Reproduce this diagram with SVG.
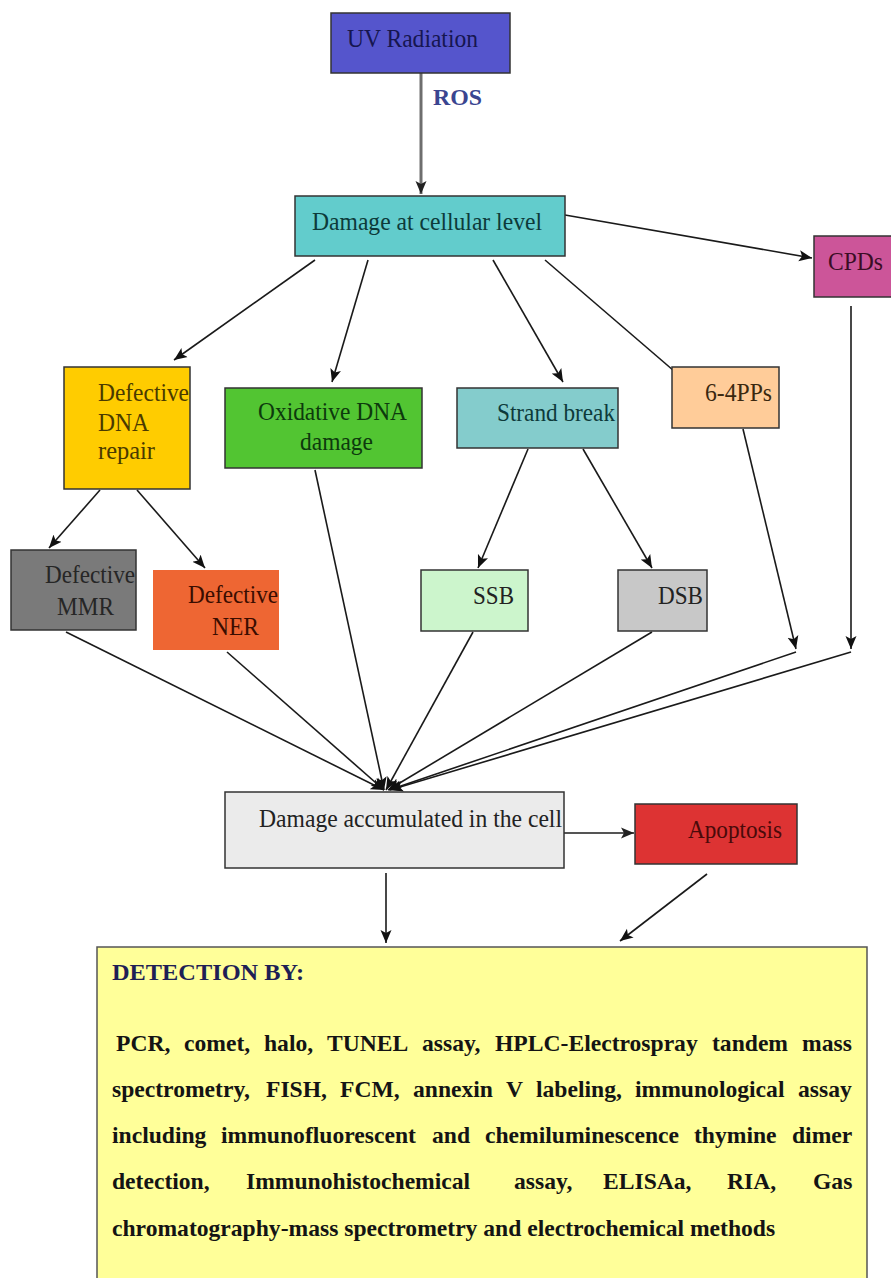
<svg xmlns="http://www.w3.org/2000/svg" width="891" height="1278" viewBox="0 0 891 1278">
<style>
.box{stroke:#333;stroke-width:1.5}
.lbl{font-family:"Liberation Serif","Times New Roman",serif;font-size:26px}
.con{stroke:#1a1a1a;stroke-width:1.6;fill:none}
.det{font-family:"Liberation Serif","Times New Roman",serif;font-size:23.6px;font-weight:bold;fill:#141414}
</style>
<defs>
<marker id="ah" markerUnits="userSpaceOnUse" markerWidth="14" markerHeight="12" refX="13" refY="6" orient="auto">
<path d="M0,0.5 L13,6 L0,11.5 L3,6 z" fill="#111"/>
</marker>
<marker id="ahg" markerUnits="userSpaceOnUse" markerWidth="14" markerHeight="12" refX="13" refY="6" orient="auto">
<path d="M0,0.5 L13,6 L0,11.5 L3,6 z" fill="#222"/>
</marker>
</defs>
<rect width="891" height="1278" fill="#fff"/>

<g id="connectors">
<line x1="421" y1="73" x2="421" y2="194" stroke="#6e6e6e" stroke-width="3" marker-end="url(#ahg)"/>
<line class="con" x1="565" y1="215" x2="812" y2="258" marker-end="url(#ah)"/>
<line class="con" x1="315" y1="260" x2="174" y2="360" marker-end="url(#ah)"/>
<line class="con" x1="368" y1="260" x2="332" y2="382" marker-end="url(#ah)"/>
<line class="con" x1="493" y1="260" x2="563" y2="382" marker-end="url(#ah)"/>
<line class="con" x1="545" y1="260" x2="688" y2="383" marker-end="url(#ah)"/>
<line class="con" x1="100" y1="490" x2="49" y2="548" marker-end="url(#ah)"/>
<line class="con" x1="137" y1="490" x2="205" y2="568" marker-end="url(#ah)"/>
<line class="con" x1="528" y1="449" x2="478" y2="568" marker-end="url(#ah)"/>
<line class="con" x1="583" y1="449" x2="652" y2="568" marker-end="url(#ah)"/>
<line class="con" x1="743" y1="429" x2="796" y2="649" marker-end="url(#ah)"/>
<line class="con" x1="851" y1="306" x2="851" y2="649" marker-end="url(#ah)"/>
<line class="con" x1="66" y1="632" x2="384" y2="790" marker-end="url(#ah)"/>
<line class="con" x1="227" y1="652" x2="384" y2="790" marker-end="url(#ah)"/>
<line class="con" x1="315" y1="470" x2="384" y2="790" marker-end="url(#ah)"/>
<line class="con" x1="473" y1="632" x2="386" y2="790" marker-end="url(#ah)"/>
<line class="con" x1="652" y1="632" x2="388" y2="790" marker-end="url(#ah)"/>
<line class="con" x1="796" y1="652" x2="389" y2="790" marker-end="url(#ah)"/>
<line class="con" x1="851" y1="652" x2="390" y2="790" marker-end="url(#ah)"/>
<line x1="564" y1="833" x2="634" y2="833" stroke="#555" stroke-width="2.2" marker-end="url(#ahg)"/>
<line class="con" x1="386" y1="873" x2="386" y2="943" marker-end="url(#ah)"/>
<line class="con" x1="707" y1="874" x2="620" y2="941" marker-end="url(#ah)"/>
</g>

<g id="uv">
<rect class="box" x="331" y="13" width="179" height="60" fill="#5555cc"/>
<text class="lbl" x="347" y="47" textLength="131" lengthAdjust="spacingAndGlyphs" fill="#161650">UV Radiation</text>
</g>
<g id="ros-label">
<text x="433" y="105" font-family="Liberation Serif,serif" font-weight="bold" font-size="24" fill="#3a4590" textLength="49" lengthAdjust="spacingAndGlyphs">ROS</text>
</g>
<g id="damage-cell">
<rect class="box" x="295" y="196" width="270" height="60" fill="#62cccc"/>
<text class="lbl" x="312" y="230" textLength="230" lengthAdjust="spacingAndGlyphs" fill="#0d3a3a">Damage at cellular level</text>
</g>
<g id="cpds">
<rect class="box" x="814" y="236" width="80" height="61" fill="#cc5599"/>
<text class="lbl" x="828" y="270" textLength="55" lengthAdjust="spacingAndGlyphs" fill="#3a0d25">CPDs</text>
</g>
<g id="pp64">
<rect class="box" x="672" y="367" width="107" height="61" fill="#ffcc99"/>
<text class="lbl" x="705" y="401" textLength="67" lengthAdjust="spacingAndGlyphs" fill="#3a2810">6-4PPs</text>
</g>
<g id="dna-repair">
<rect class="box" x="64" y="367" width="126" height="122" fill="#ffcc00"/>
<text class="lbl" fill="#4a3a00"><tspan x="98" y="401" textLength="91" lengthAdjust="spacingAndGlyphs">Defective</tspan><tspan x="98" y="431" textLength="51" lengthAdjust="spacingAndGlyphs">DNA</tspan><tspan x="98" y="459" textLength="57" lengthAdjust="spacingAndGlyphs">repair</tspan></text>
</g>
<g id="oxidative">
<rect class="box" x="225" y="388" width="197" height="80" fill="#52c532"/>
<text class="lbl" fill="#0d3a0d"><tspan x="258" y="420" textLength="149" lengthAdjust="spacingAndGlyphs">Oxidative DNA</tspan><tspan x="300" y="450" textLength="73" lengthAdjust="spacingAndGlyphs">damage</tspan></text>
</g>
<g id="strand-break">
<rect class="box" x="457" y="388" width="161" height="60" fill="#84cccc"/>
<text class="lbl" x="497" y="421" textLength="118" lengthAdjust="spacingAndGlyphs" fill="#0d3a3a">Strand break</text>
</g>
<g id="mmr">
<rect class="box" x="11" y="550" width="125" height="80" fill="#7a7a7a"/>
<text class="lbl" fill="#262626"><tspan x="45" y="583" textLength="90" lengthAdjust="spacingAndGlyphs">Defective</tspan><tspan x="57" y="615" textLength="57" lengthAdjust="spacingAndGlyphs">MMR</tspan></text>
</g>
<g id="ner">
<rect x="153" y="570" width="126" height="80" fill="#ee6633"/>
<text class="lbl" fill="#3a0d00"><tspan x="188" y="603" textLength="90" lengthAdjust="spacingAndGlyphs">Defective</tspan><tspan x="212" y="635" textLength="47" lengthAdjust="spacingAndGlyphs">NER</tspan></text>
</g>
<g id="ssb">
<rect class="box" x="421" y="570" width="107" height="61" fill="#ccf5cc"/>
<text class="lbl" x="473" y="604" textLength="41" lengthAdjust="spacingAndGlyphs" fill="#222">SSB</text>
</g>
<g id="dsb">
<rect class="box" x="618" y="570" width="89" height="61" fill="#c8c8c8"/>
<text class="lbl" x="658" y="604" textLength="45" lengthAdjust="spacingAndGlyphs" fill="#222">DSB</text>
</g>
<g id="damage-accumulated">
<rect class="box" x="225" y="792" width="339" height="76" fill="#ebebeb"/>
<text class="lbl" x="259" y="827" textLength="303" lengthAdjust="spacingAndGlyphs" fill="#222">Damage accumulated in the cell</text>
</g>
<g id="apoptosis">
<rect class="box" x="635" y="804" width="162" height="60" fill="#dd3333"/>
<text class="lbl" x="688" y="838" textLength="94" lengthAdjust="spacingAndGlyphs" fill="#4a0a0a">Apoptosis</text>
</g>
<g id="detection">
<rect x="97" y="947" width="770" height="340" fill="#ffff99" stroke="#555" stroke-width="1.5"/>
<text x="112" y="980" font-family="Liberation Serif,serif" font-weight="bold" font-size="24" fill="#1f1f55" textLength="192" lengthAdjust="spacingAndGlyphs">DETECTION BY:</text>
<text class="det" y="1051"><tspan x="116">PCR,</tspan><tspan x="184">comet,</tspan><tspan x="264">halo,</tspan><tspan x="327">TUNEL</tspan><tspan x="422">assay,</tspan><tspan x="495">HPLC-Electrospray</tspan><tspan x="712">tandem</tspan><tspan x="802">mass</tspan></text>
<text class="det" y="1097"><tspan x="112">spectrometry,</tspan><tspan x="266">FISH,</tspan><tspan x="340">FCM,</tspan><tspan x="413">annexin</tspan><tspan x="506">V</tspan><tspan x="536">labeling,</tspan><tspan x="635">immunological</tspan><tspan x="798">assay</tspan></text>
<text class="det" y="1143"><tspan x="112">including</tspan><tspan x="221">immunofluorescent</tspan><tspan x="432">and</tspan><tspan x="485">chemiluminescence</tspan><tspan x="694">thymine</tspan><tspan x="792">dimer</tspan></text>
<text class="det" y="1189"><tspan x="112">detection,</tspan><tspan x="246">Immunohistochemical</tspan><tspan x="514">assay,</tspan><tspan x="603">ELISAa,</tspan><tspan x="727">RIA,</tspan><tspan x="813">Gas</tspan></text>
<text class="det" x="112" y="1236">chromatography-mass spectrometry and electrochemical methods</text>
</g>
</svg>
